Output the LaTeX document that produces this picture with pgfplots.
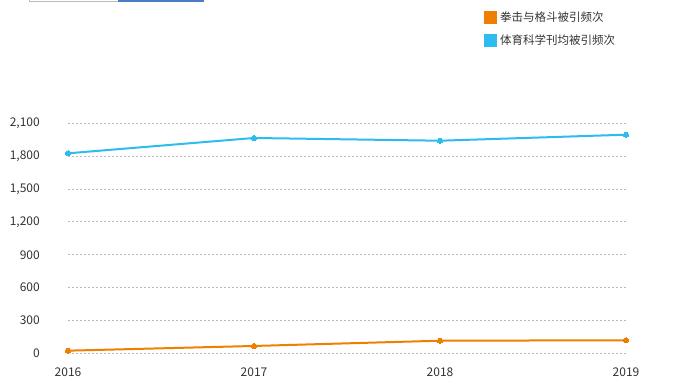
\documentclass[border=0pt]{standalone}
\usepackage{fontspec}
\setmainfont{Noto Sans CJK SC}
\usepackage{pgfplots}
\pgfplotsset{compat=1.18}
\definecolor{cblue}{HTML}{2EBCEF}
\definecolor{corange}{HTML}{EE7F00}
\definecolor{ctext}{HTML}{333333}
\definecolor{cgrid}{HTML}{BBBBBB}
\definecolor{cbtn}{HTML}{4A7DC8}
\begin{document}
\fontsize{12}{14}\selectfont
\begin{tikzpicture}[x=1pt,y=1pt]
\useasboundingbox (0,0) rectangle (676,389);
\draw[color=cgrid, line width=1pt] (29.5,395) -- (29.5,387.5) -- (118,387.5);
\fill[cbtn] (118,386.5) rectangle (204,392);
\begin{axis}[
  scale only axis,
  width=558pt, height=230pt,
  at={(68pt,35.7pt)}, anchor=south west,
  xmin=2016, xmax=2019, ymin=0, ymax=2100,
  xtick={2016,2017,2018,2019},
  xticklabels={2016,2017,2018,2019},
  ytick={0,300,...,2100},
  yticklabel style={/pgf/number format/assume math mode=true,/pgf/number format/1000 sep={,}, anchor=east, inner sep=0pt, xshift=-28pt, font=\fontsize{12}{14}\selectfont, text=ctext},
  xticklabel style={anchor=north, inner sep=0pt, yshift=-14pt, font=\fontsize{12}{14}\selectfont, text=ctext},
  axis line style={draw=none},
  major tick length=0pt,
  ymajorgrids,
  grid style={color=cgrid, line width=1pt, dash pattern=on 2pt off 2pt},
  clip=false,
  legend cell align=left,
  legend style={at={(0.7455,1.49)}, anchor=north west, draw=none, fill=none, inner sep=0pt, row sep=9pt, font=\fontsize{11.5}{13}\selectfont, text=ctext, nodes={inner ysep=1pt, inner xsep=3pt}},
  legend image code/.code={\fill[#1] (0pt,-5.5pt) rectangle (11pt,5.5pt);},
]
\addplot[color=corange, line width=2pt, mark=*, mark size=2.6pt, mark options={fill=corange, draw=none, line width=0pt}] coordinates {
(2016,24) (2017,67) (2018,115) (2019,119)};
\addlegendentry{拳击与格斗被引频次}
\addplot[color=cblue, line width=2pt, mark=*, mark size=2.6pt, mark options={fill=cblue, draw=none, line width=0pt}] coordinates {
(2016,1826) (2017,1966) (2018,1941) (2019,1996)};
\addlegendentry{体育科学刊均被引频次}
\end{axis}
\end{tikzpicture}
\end{document}
